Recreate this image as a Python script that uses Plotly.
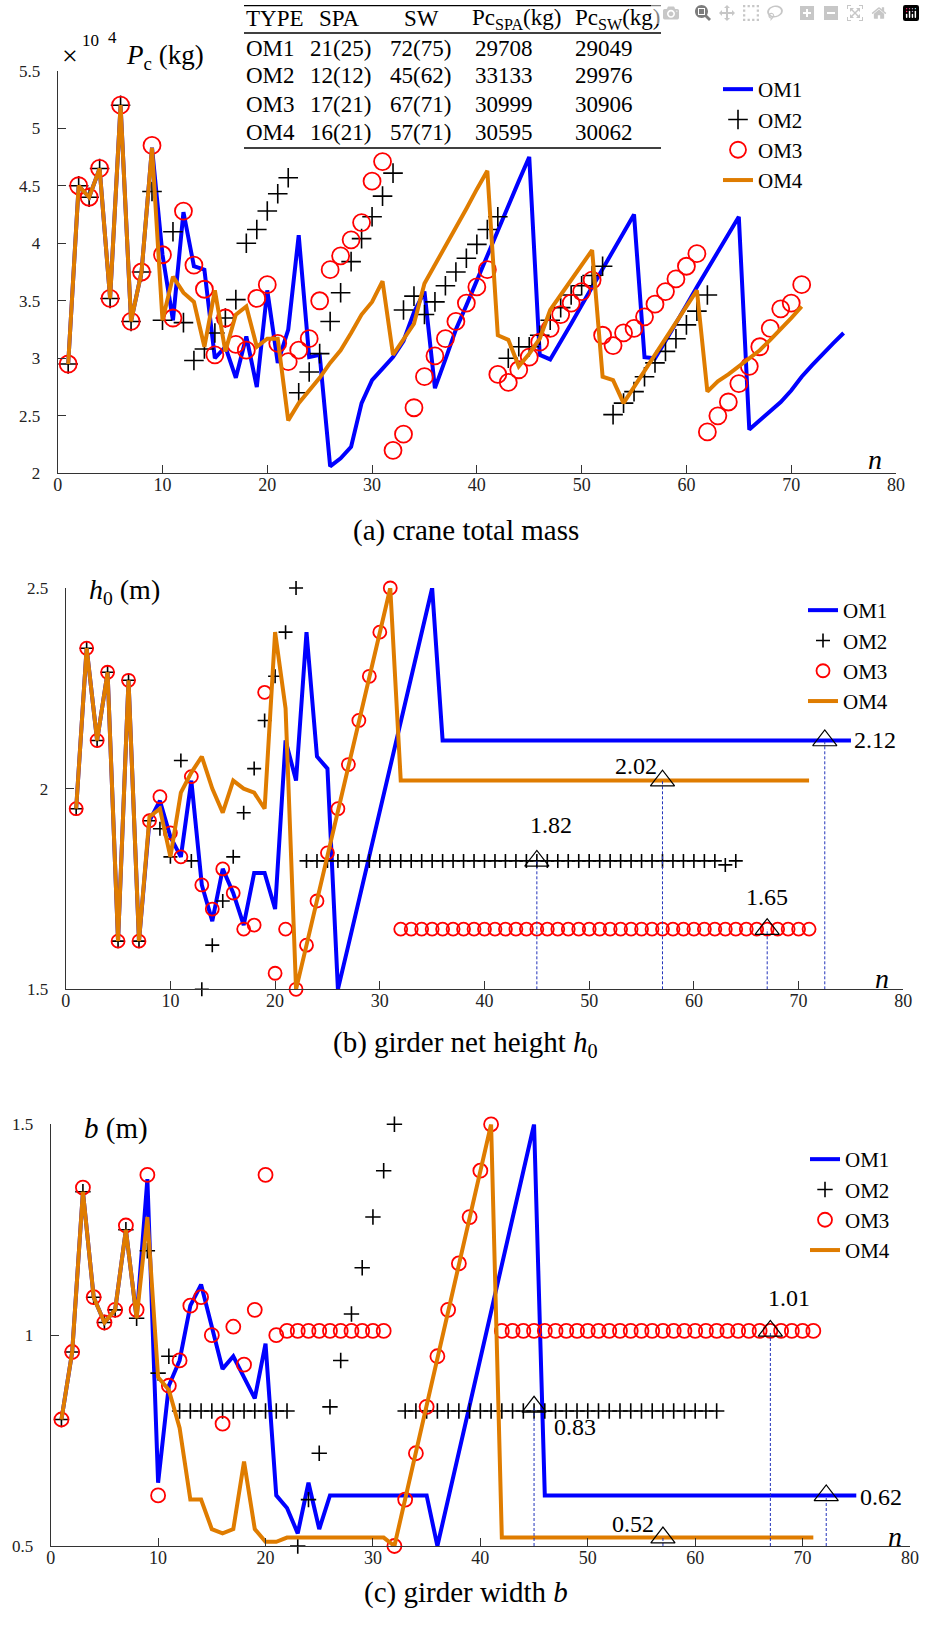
import plotly.graph_objects as go

# ------------------------------------------------------------------ data
# (a) crane total mass Pc (x10^4 kg), iteration n = 1..len
A_OM1 = [2.95, 4.50, 4.40, 4.65, 3.52, 5.20, 3.32, 3.75, 4.83, 3.90,
         3.33, 4.27, 3.80, 3.77, 3.00, 3.10, 2.83, 3.19, 2.75, 3.59,
         2.96, 3.25, 4.07, 3.01, 3.03, 2.06, 2.13, 2.23, 2.61, 2.81,
         2.91, 3.01, 3.15, 3.40, 3.58, 2.74, 2.99, 3.25, 3.46, 3.68,
         3.90, 4.11, 4.32, 4.54, 4.75, 3.03, 2.99, 3.14, 3.30, 3.46,
         3.62, 3.78, 3.93, 4.09, 4.25, 3.01, 3.00, 3.15, 3.30, 3.46,
         3.62, 3.77, 3.92, 4.08, 4.23, 2.38, 2.46, 2.55, 2.62, 2.72,
         2.84, 2.94, 3.04, 3.13, 3.22]
A_OM2 = [2.95, 4.50, 4.40, 4.65, 3.52, 5.20, 3.32, 3.75, 4.45, 3.33,
         4.10, 3.31, 2.98, 3.08, 3.22, 3.35, 3.51, 4.00, 4.12, 4.28,
         4.43, 4.57, 2.70, 2.88, 3.04, 3.32, 3.57, 3.84, 4.04, 4.23,
         4.41, 4.61, 3.42, 3.54, 3.38, 3.49, 3.63, 3.75, 3.87, 3.99,
         4.12, 4.23, 3.00, 3.10, 3.10, 3.20, 3.33, 3.44, 3.55, 3.63,
         3.72, 3.80, 2.51, 2.61, 2.71, 2.84, 2.96, 3.06, 3.17, 3.29,
         3.41, 3.55]
A_OM3 = [2.95, 4.50, 4.40, 4.65, 3.52, 5.20, 3.32, 3.75, 4.85, 3.90,
         3.35, 4.28, 3.81, 3.60, 3.03, 3.35, 3.12, 3.07, 3.52, 3.64,
         3.13, 2.97, 3.07, 3.17, 3.50, 3.77, 3.89, 4.03, 4.18, 4.54,
         4.71, 2.20, 2.34, 2.57, 2.84, 3.02, 3.17, 3.32, 3.48, 3.62,
         3.77, 2.86, 2.79, 2.90, 3.01, 3.14, 3.26, 3.38, 3.48, 3.58,
         3.68, 3.20, 3.11, 3.22, 3.26, 3.36, 3.47, 3.58, 3.69, 3.80,
         3.91, 2.36, 2.50, 2.62, 2.78, 2.93, 3.10, 3.26, 3.43, 3.48,
         3.64]
A_OM4 = [2.95, 4.50, 4.40, 4.65, 3.52, 5.20, 3.32, 3.75, 4.83, 3.33,
         3.71, 3.57, 3.49, 3.10, 3.59, 3.06, 3.38, 3.45, 3.10, 3.17,
         3.17, 2.46, 2.61, 2.72, 2.83, 2.96, 3.07, 3.22, 3.38, 3.49,
         3.67, 3.03, 3.16, 3.30, 3.65, 3.81, 3.98, 4.14, 4.30, 4.47,
         4.63, 3.20, 3.16, 2.93, 3.04, 3.17, 3.42, 3.55, 3.68, 3.81,
         3.94, 2.84, 2.81, 2.61, 2.75, 2.89, 3.03, 3.17, 3.31, 3.45,
         3.59, 2.71, 2.80, 2.86, 2.93, 3.00, 3.07, 3.16, 3.25, 3.35,
         3.45]

# (b) girder net height h0 (m)
B_OM1 = [1.95, 2.35, 2.12, 2.29, 1.62, 2.27, 1.62, 1.92, 1.97, 1.88,
         1.83, 2.02, 1.76, 1.67, 1.80, 1.74, 1.66, 1.79, 1.79, 1.70,
         2.12, 2.02, 2.39, 2.08, 2.05, 1.50, 1.61, 1.72, 1.83, 1.94,
         2.06, 2.17, 2.28, 2.39, 2.50, 2.12, 2.12, 2.12, 2.12, 2.12,
         2.12, 2.12, 2.12, 2.12, 2.12, 2.12, 2.12, 2.12, 2.12, 2.12,
         2.12, 2.12, 2.12, 2.12, 2.12, 2.12, 2.12, 2.12, 2.12, 2.12,
         2.12, 2.12, 2.12, 2.12, 2.12, 2.12, 2.12, 2.12, 2.12, 2.12,
         2.12, 2.12, 2.12, 2.12, 2.12]
B_OM2 = [1.95, 2.35, 2.12, 2.29, 1.62, 2.27, 1.62, 1.92, 1.90, 1.83,
         2.07, 1.82, 1.50, 1.61, 1.72, 1.83, 1.94, 2.05, 2.17, 2.28,
         2.39, 2.50, 1.82, 1.82, 1.82, 1.82, 1.82, 1.82, 1.82, 1.82,
         1.82, 1.82, 1.82, 1.82, 1.82, 1.82, 1.82, 1.82, 1.82, 1.82,
         1.82, 1.82, 1.82, 1.82, 1.82, 1.82, 1.82, 1.82, 1.82, 1.82,
         1.82, 1.82, 1.82, 1.82, 1.82, 1.82, 1.82, 1.82, 1.82, 1.82,
         1.82, 1.82, 1.81, 1.82]
B_OM3 = [1.95, 2.35, 2.12, 2.29, 1.62, 2.27, 1.62, 1.92, 1.98, 1.89,
         1.83, 2.03, 1.76, 1.70, 1.80, 1.74, 1.65, 1.66, 2.24, 1.54,
         1.65, 1.50, 1.61, 1.72, 1.84, 1.95, 2.06, 2.17, 2.28, 2.39,
         2.50, 1.65, 1.65, 1.65, 1.65, 1.65, 1.65, 1.65, 1.65, 1.65,
         1.65, 1.65, 1.65, 1.65, 1.65, 1.65, 1.65, 1.65, 1.65, 1.65,
         1.65, 1.65, 1.65, 1.65, 1.65, 1.65, 1.65, 1.65, 1.65, 1.65,
         1.65, 1.65, 1.65, 1.65, 1.65, 1.65, 1.65, 1.65, 1.65, 1.65,
         1.65]
B_OM4 = [1.95, 2.35, 2.12, 2.29, 1.62, 2.27, 1.62, 1.93, 1.95, 1.83,
         1.99, 2.04, 2.08, 2.00, 1.94, 2.02, 2.00, 1.99, 1.95, 2.39,
         2.20, 1.50, 1.61, 1.72, 1.83, 1.94, 2.06, 2.17, 2.28, 2.39,
         2.50, 2.02, 2.02, 2.02, 2.02, 2.02, 2.02, 2.02, 2.02, 2.02,
         2.02, 2.02, 2.02, 2.02, 2.02, 2.02, 2.02, 2.02, 2.02, 2.02,
         2.02, 2.02, 2.02, 2.02, 2.02, 2.02, 2.02, 2.02, 2.02, 2.02,
         2.02, 2.02, 2.02, 2.02, 2.02, 2.02, 2.02, 2.02, 2.02, 2.02,
         2.02]
B_MARK_N = [45, 57, 67, 72.5]
B_MARK_V = [1.82, 2.02, 1.65, 2.12]
B_MARK_TXT = ["1.82", "2.02", "1.65", "2.12"]

# (c) girder width b (m)
C_OM1 = [0.80, 0.96, 1.34, 1.09, 1.03, 1.06, 1.25, 1.04, 1.37, 0.65,
         0.88, 0.94, 1.07, 1.12, 1.02, 0.92, 0.95, 0.90, 0.85, 0.98,
         0.62, 0.59, 0.53, 0.65, 0.54, 0.62, 0.62, 0.62, 0.62, 0.62,
         0.62, 0.62, 0.62, 0.62, 0.62, 0.50, 0.61, 0.72, 0.83, 0.94,
         1.06, 1.17, 1.28, 1.39, 1.50, 0.62, 0.62, 0.62, 0.62, 0.62,
         0.62, 0.62, 0.62, 0.62, 0.62, 0.62, 0.62, 0.62, 0.62, 0.62,
         0.62, 0.62, 0.62, 0.62, 0.62, 0.62, 0.62, 0.62, 0.62, 0.62,
         0.62, 0.62, 0.62, 0.62, 0.62]
C_OM2 = [0.80, 0.96, 1.34, 1.09, 1.03, 1.06, 1.25, 1.04, 1.20, 0.91,
         0.95, 0.82, 0.82, 0.82, 0.82, 0.82, 0.82, 0.82, 0.82, 0.82,
         0.82, 0.82, 0.50, 0.61, 0.72, 0.83, 0.94, 1.05, 1.16, 1.28,
         1.39, 1.50, 0.82, 0.82, 0.82, 0.82, 0.82, 0.82, 0.82, 0.82,
         0.82, 0.82, 0.82, 0.82, 0.82, 0.82, 0.82, 0.82, 0.82, 0.82,
         0.82, 0.82, 0.82, 0.82, 0.82, 0.82, 0.82, 0.82, 0.82, 0.82,
         0.82, 0.82]
C_OM3 = [0.80, 0.96, 1.35, 1.09, 1.03, 1.06, 1.26, 1.06, 1.38, 0.62,
         0.88, 0.94, 1.07, 1.09, 1.00, 0.79, 1.02, 0.93, 1.06, 1.38,
         1.00, 1.01, 1.01, 1.01, 1.01, 1.01, 1.01, 1.01, 1.01, 1.01,
         1.01, 0.50, 0.61, 0.72, 0.83, 0.95, 1.06, 1.17, 1.28, 1.39,
         1.50, 1.01, 1.01, 1.01, 1.01, 1.01, 1.01, 1.01, 1.01, 1.01,
         1.01, 1.01, 1.01, 1.01, 1.01, 1.01, 1.01, 1.01, 1.01, 1.01,
         1.01, 1.01, 1.01, 1.01, 1.01, 1.01, 1.01, 1.01, 1.01, 1.01,
         1.01]
C_OM4 = [0.80, 0.96, 1.34, 1.09, 1.03, 1.06, 1.25, 1.04, 1.28, 0.90,
         0.87, 0.78, 0.61, 0.61, 0.54, 0.53, 0.54, 0.70, 0.54, 0.51,
         0.51, 0.52, 0.52, 0.52, 0.52, 0.52, 0.52, 0.52, 0.52, 0.52,
         0.52, 0.50, 0.61, 0.72, 0.83, 0.95, 1.06, 1.17, 1.28, 1.39,
         1.50, 0.52, 0.52, 0.52, 0.52, 0.52, 0.52, 0.52, 0.52, 0.52,
         0.52, 0.52, 0.52, 0.52, 0.52, 0.52, 0.52, 0.52, 0.52, 0.52,
         0.52, 0.52, 0.52, 0.52, 0.52, 0.52, 0.52, 0.52, 0.52, 0.52,
         0.52]
C_MARK_N = [45, 57, 67, 72.2]
C_MARK_V = [0.83, 0.52, 1.01, 0.62]
C_MARK_TXT = ["0.83", "0.52", "1.01", "0.62"]

# table in panel (a)
TBL_HEAD = ["TYPE", "SPA", "SW", "Pc<sub>SPA</sub>(kg)", "Pc<sub>SW</sub>(kg)"]
TBL_TYPE = ["OM1", "OM2", "OM3", "OM4"]
TBL_SPA = ["21(25)", "12(12)", "17(21)", "16(21)"]
TBL_SW = ["72(75)", "45(62)", "67(71)", "57(71)"]
TBL_PC_SPA = ["29708", "33133", "30999", "30595"]
TBL_PC_SW = ["29049", "29976", "30906", "30062"]

SERIES_NAMES = ["OM1", "OM2", "OM3", "OM4"]

# ------------------------------------------------------------------ style
W, H = 925, 1629
FONT = "Liberation Serif, Times New Roman, serif"
BLUE = "#0000FF"
ORANGE = "#DF7C00"
RED = "#FF0000"
AX = "#333333"


def px(x):
    return x / W


def py(y):
    return 1 - y / H


panels = [
    dict(s="", data=(A_OM1, A_OM2, A_OM3, A_OM4), leg="legend",
         xdom=[57.7, 896.0], ydom=[473.3, 70.7], yr=[2, 5.5],
         yt=[2, 2.5, 3, 3.5, 4, 4.5, 5, 5.5], cross=14, circ=17, cw=1.6),
    dict(s="2", data=(B_OM1, B_OM2, B_OM3, B_OM4), leg="legend2",
         xdom=[65.7, 903.3], ydom=[989.3, 588.0], yr=[1.5, 2.5],
         yt=[1.5, 2, 2.5], cross=10, circ=13, cw=1.6),
    dict(s="3", data=(C_OM1, C_OM2, C_OM3, C_OM4), leg="legend3",
         xdom=[50.7, 910.0], ydom=[1546.0, 1124.3], yr=[0.5, 1.5],
         yt=[0.5, 1, 1.5], cross=11, circ=14, cw=1.6),
]

fig = go.Figure()

for p in panels:
    xa, ya = "x" + p["s"], "y" + p["s"]
    om1, om2, om3, om4 = p["data"]
    common = dict(xaxis=xa, yaxis=ya, legend=p["leg"], cliponaxis=False)
    fig.add_trace(go.Scatter(x=list(range(1, len(om1) + 1)), y=om1, mode="lines",
                             name=SERIES_NAMES[0], line=dict(color=BLUE, width=4), **common))
    fig.add_trace(go.Scatter(x=list(range(1, len(om2) + 1)), y=om2, mode="markers",
                             name=SERIES_NAMES[1],
                             marker=dict(symbol="cross-thin-open", size=p["cross"], color="black",
                                         line=dict(color="black", width=p["cw"])), **common))
    fig.add_trace(go.Scatter(x=list(range(1, len(om3) + 1)), y=om3, mode="markers",
                             name=SERIES_NAMES[2],
                             marker=dict(symbol="circle-open", size=p["circ"], color=RED,
                                         line=dict(color=RED, width=1.8)), **common))
    fig.add_trace(go.Scatter(x=list(range(1, len(om4) + 1)), y=om4, mode="lines",
                             name=SERIES_NAMES[3], line=dict(color=ORANGE, width=4), **common))

# markers with dashed drop lines
marks = [("2", B_MARK_N, B_MARK_V, B_MARK_TXT, 1.5,
          [(14, 36), (-26, 15), (0, 32), (50, 0)]),
         ("3", C_MARK_N, C_MARK_V, C_MARK_TXT, 0.5,
          [(41, -20), (-30, 14), (19, 33), (55, -2)])]
annotations = []
for s, mn, mv, mt, base, offs in marks:
    for xv, yv in zip(mn, mv):
        fig.add_trace(go.Scatter(x=[xv, xv], y=[base, yv], mode="lines", showlegend=False,
                                 line=dict(color="#2233BB", width=1, dash="3px,2px"),
                                 xaxis="x" + s, yaxis="y" + s, cliponaxis=False, hoverinfo="skip"))
    fig.add_trace(go.Scatter(x=mn, y=mv, mode="markers", showlegend=False,
                             marker=dict(symbol="triangle-up-open", size=21, color="black",
                                         line=dict(color="black", width=1.2)),
                             xaxis="x" + s, yaxis="y" + s, cliponaxis=False, hoverinfo="skip"))
    for xv, yv, t, (dx, dy) in zip(mn, mv, mt, offs):
        annotations.append(dict(x=xv, y=yv, xref="x" + s, yref="y" + s, text=t, showarrow=False,
                                xshift=dx, yshift=dy, xanchor="center", yanchor="middle",
                                font=dict(family=FONT, size=24, color="black")))

layout = dict(width=W, height=H, margin=dict(l=0, r=0, t=0, b=0, pad=0, autoexpand=False),
              paper_bgcolor="white", plot_bgcolor="white", showlegend=True,
              font=dict(family=FONT, color="black"))

for p in panels:
    s = p["s"]
    layout["xaxis" + s] = dict(domain=[px(p["xdom"][0]), px(p["xdom"][1])], range=[0, 80],
                               anchor="y" + s, tickvals=list(range(0, 81, 10)), ticks="inside",
                               ticklen=8, tickwidth=1.2, tickcolor=AX, showline=True, linecolor=AX,
                               linewidth=1.3, showgrid=False, zeroline=False, automargin=False,
                               tickfont=dict(family=FONT, size=18, color="#222"),
                               ticklabelstandoff=-5)
    layout["yaxis" + s] = dict(domain=[py(p["ydom"][0]), py(p["ydom"][1])], range=p["yr"],
                               anchor="x" + s, tickvals=p["yt"], ticks="inside",
                               ticklen=8, tickwidth=1.2, tickcolor=AX, showline=True, linecolor=AX,
                               linewidth=1.3, showgrid=False, zeroline=False, automargin=False,
                               tickfont=dict(family=FONT, size=17, color="#222"),
                               ticklabelstandoff=13)

leg_common = dict(bgcolor="rgba(0,0,0,0)", borderwidth=0, xanchor="left", yanchor="top",
                  font=dict(family=FONT, size=21, color="black"), tracegroupgap=0)
layout["legend"] = dict(x=px(718), y=py(69), **leg_common)
layout["legend2"] = dict(x=px(803), y=py(590), **leg_common)
layout["legend3"] = dict(x=px(805), y=py(1139), **leg_common)


def ann(x, y, text, size=24, xanchor="left", yanchor="middle"):
    annotations.append(dict(x=px(x), y=py(y), xref="paper", yref="paper", text=text,
                            showarrow=False, xanchor=xanchor, yanchor=yanchor,
                            font=dict(family=FONT, size=size, color="black")))


# table
head_x = [244, 317, 402, 470, 573]
col_x = [244, 308, 388, 473, 573]
for t, x in zip(TBL_HEAD, head_x):
    ann(x, 19, t, 23)
row_y = [48, 76, 104, 132]
for i, y in enumerate(row_y):
    for t, x in zip([TBL_TYPE[i], TBL_SPA[i], TBL_SW[i], TBL_PC_SPA[i], TBL_PC_SW[i]], col_x):
        ann(x, y, t, 23)
shapes = []
for y in [5.7, 33, 148]:
    shapes.append(dict(type="line", xref="paper", yref="paper", x0=px(244), x1=px(661),
                       y0=py(y), y1=py(y), line=dict(color="black", width=1.3)))

# axis titles
ann(60, 55, "×", 28)
ann(80, 40, "10", 17)
ann(106, 37, "4", 17)
ann(124, 57, "<i>P</i><sub>c</sub> (kg)", 27)
ann(87, 592, "<i>h</i><sub>0</sub> (m)", 28)
ann(82, 1128, "<i>b</i> (m)", 29)
ann(866, 459, "<i>n</i>", 28)
ann(873, 978, "<i>n</i>", 28)
ann(886, 1536, "<i>n</i>", 28)

# captions
ann(466, 530, "(a) crane total mass", 29, xanchor="center")
ann(466, 1044, "(b) girder net height <i>h</i><sub>0</sub>", 29, xanchor="center")
ann(466, 1592, "(c) girder width <i>b</i>", 29, xanchor="center")

layout["annotations"] = annotations
layout["shapes"] = shapes
fig.update_layout(**layout)

fig.write_html("out.html",
               post_script="document.body.style.margin='0';document.body.style.overflow='hidden';")
